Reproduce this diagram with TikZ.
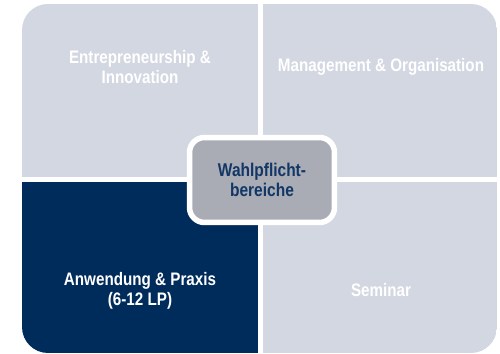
\documentclass[tikz,border=0pt]{standalone}
\usepackage{fontspec}
\setmainfont{Liberation Sans}[FakeStretch=0.84]
\usetikzlibrary{positioning}

\definecolor{paleBlue}{HTML}{D3D7E2}
\definecolor{darkBlue}{HTML}{002C5B}
\definecolor{midGray}{HTML}{A9ACB5}
\definecolor{labelBlue}{HTML}{123766}

\tikzset{
  area/.style={align=center,font=\bfseries\fontsize{10.3}{11.5}\selectfont,text=white},
  core/.style={draw=white,line width=0.11cm,fill=midGray,rounded corners=0.3cm,
    minimum width=2.9cm,minimum height=1.7cm,align=center,text=labelBlue,
    font=\bfseries\fontsize{10.5}{11.8}\selectfont}
}

\begin{document}
\begin{tikzpicture}[x=0.02cm,y=-0.02cm]
\useasboundingbox (0,0) rectangle (500,354);
\def\xL{22}
\def\xM{258}
\def\xR{497}
\def\yT{4}
\def\yM{177}
\def\yB{353}
\def\gap{5}

%quadrants
\begin{scope}
  \clip[rounded corners=0.52cm] (\xL,\yT) rectangle (\xR,\yB);
  \fill[paleBlue] (\xL,\yT) rectangle (\xM,\yM);
  \fill[paleBlue] (\xM+\gap,\yT) rectangle (\xR,\yM);
  \fill[darkBlue] (\xL,\yM+\gap) rectangle (\xM,\yB);
  \fill[paleBlue] (\xM+\gap,\yM+\gap) rectangle (\xR,\yB);
\end{scope}

%labels
\node[area] (entre) at (140,67) {Entrepreneurship \&\\Innovation};
\node[area] (mgmt) at (381,67) {Management \& Organisation};
\node[area] (praxis) at (140,291) {Anwendung \& Praxis\\(6-12 LP)};
\node[area] (seminar) at (381,290) {Seminar};

%center
\node[core] (wahl) at (262,180) {Wahlpflicht-\\bereiche};
\end{tikzpicture}
\end{document}
